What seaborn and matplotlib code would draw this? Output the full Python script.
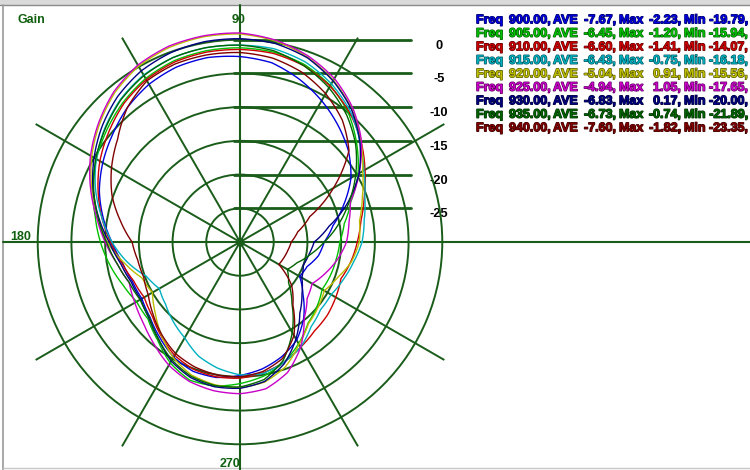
import numpy as np
import pandas as pd
import matplotlib
matplotlib.use('Agg')
import matplotlib.pyplot as plt
import matplotlib.colors as mcolors
import matplotlib.patheffects as pe
import seaborn as sns

# antenna pattern, gain in dB read every 10 degrees (0 = east, counter-clockwise)
angles = list(range(0, 360, 10))

g900 = [-17.5, -16.0, -13.6, -11.0, -9.0, -7.4, -5.8, -4.3, -3.0, -2.5, -2.23, -2.4,
        -3.0, -4.0, -5.3, -6.5, -7.8, -9.4, -11.0, -12.3, -13.0, -13.2, -12.6, -11.5,
        -10.3, -9.6, -9.6, -10.2, -10.9, -11.9, -13.2, -15.3, -17.8, -19.79, -19.4, -18.2]
g905 = [-15.2, -14.3, -12.5, -9.8, -7.4, -5.0, -3.2, -2.0, -1.4, -1.2, -1.2, -1.4,
        -2.0, -3.0, -4.2, -5.4, -6.8, -8.2, -9.3, -10.4, -11.5, -12.3, -12.2, -11.0,
        -9.3, -8.2, -8.3, -9.0, -9.8, -11.0, -12.6, -14.3, -15.1, -15.94, -15.7, -15.5]
g910 = [-12.6, -11.8, -10.4, -8.6, -6.6, -4.8, -3.3, -2.2, -1.6, -1.45, -1.41, -1.6,
        -2.2, -3.2, -4.6, -6.0, -7.6, -9.2, -10.8, -12.2, -13.2, -13.6, -13.0, -11.8,
        -10.6, -9.9, -9.7, -9.8, -10.3, -11.0, -12.0, -12.8, -13.1, -13.6, -14.07, -13.3]
g915 = [-11.9, -11.3, -10.3, -8.8, -6.8, -4.6, -2.9, -1.6, -0.9, -0.8, -0.75, -0.9,
        -1.4, -2.4, -3.8, -5.4, -7.2, -9.2, -11.0, -13.0, -15.2, -16.18, -15.6, -14.6,
        -13.6, -12.0, -11.0, -10.3, -10.2, -11.0, -12.0, -13.6, -14.4, -14.4, -13.7, -12.9]
g920 = [-12.3, -12.0, -10.7, -9.0, -6.6, -4.2, -2.3, -0.8, 0.3, 0.85, 0.91, 0.7,
        0.1, -1.1, -2.8, -4.6, -6.6, -8.6, -10.3, -12.5, -14.5, -15.0, -13.6, -11.9,
        -10.2, -9.0, -8.5, -8.4, -8.9, -10.3, -12.5, -14.2, -14.9, -15.56, -14.6, -13.2]
g925 = [-14.2, -13.6, -12.6, -9.6, -6.5, -4.0, -2.0, -0.6, 0.4, 1.0, 1.05, 0.9,
        0.3, -0.9, -2.6, -4.4, -6.4, -8.4, -10.0, -11.5, -12.5, -12.0, -11.3, -10.2,
        -8.9, -8.0, -7.6, -7.5, -7.9, -9.4, -12.0, -15.2, -17.0, -17.65, -16.5, -15.3]
g930 = [-19.0, -16.6, -13.0, -9.6, -6.8, -4.3, -2.4, -0.9, -0.1, 0.15, 0.17, -0.1,
        -0.7, -1.8, -3.3, -5.0, -6.8, -8.7, -10.6, -12.0, -12.8, -13.0, -12.4, -11.2,
        -9.6, -8.6, -8.2, -8.3, -9.0, -10.8, -13.4, -16.2, -18.0, -19.4, -20.0, -19.6]
g935 = [-17.5, -15.2, -12.8, -10.2, -7.6, -5.4, -3.6, -2.2, -1.2, -0.8, -0.74, -0.9,
        -1.5, -2.5, -3.9, -5.3, -6.9, -8.6, -10.2, -11.5, -12.5, -12.9, -12.5, -11.2,
        -9.8, -8.8, -8.4, -8.5, -9.3, -11.3, -14.5, -18.0, -20.6, -21.89, -21.0, -19.4]
g940 = [-22.4, -21.3, -19.0, -14.0, -8.9, -6.4, -4.6, -3.2, -2.3, -1.9, -1.82, -1.9,
        -2.4, -4.0, -6.3, -8.0, -9.8, -12.0, -14.0, -14.6, -14.8, -14.3, -13.2, -12.0,
        -10.9, -10.3, -10.0, -10.0, -10.5, -11.6, -14.0, -17.8, -20.0, -23.35, -23.1, -22.8]

freq_labels = ['900.00', '905.00', '910.00', '915.00', '920.00', '925.00', '930.00', '935.00', '940.00']
ave_db = [-7.67, -6.45, -6.60, -6.43, -5.04, -4.94, -6.83, -6.73, -7.60]
max_db = [-2.23, -1.20, -1.41, -0.75, 0.91, 1.05, 0.17, -0.74, -1.82]
min_db = [-19.79, -15.94, -14.07, -16.18, -15.56, -17.65, -20.00, -21.89, -23.35]
colors = ['#0000dd', '#00c000', '#cc0000', '#00b0c0', '#bcbc00', '#c800c8', '#000080', '#006400', '#800000']

ring_levels = [0, -5, -10, -15, -20, -25]

series = [g900, g905, g910, g915, g920, g925, g930, g935, g940]

GRID = '#1a5c1a'

sns.set_style('white')
plt.rcParams['font.family'] = ['Liberation Sans', 'DejaVu Sans']

# long form table, curves closed back to 0 deg
rows = []
for lab, vals in zip(freq_labels, series):
    for a, v in zip(angles + [360], vals + vals[:1]):
        rows.append((lab, np.deg2rad(a), v))
df = pd.DataFrame(rows, columns=['freq', 'theta', 'gain'])

fig = plt.figure(figsize=(7.5, 4.7), dpi=100)

# background axes in pixel units for frame, axis lines and text
bg = fig.add_axes([0, 0, 1, 1])
bg.set_xlim(0, 750)
bg.set_ylim(470, 0)
bg.axis('off')

# polar axes centred at (240, 242) px, spokes out to +5 dB
ax = fig.add_axes([0.005333, -0.01702, 0.62933, 1.00426], projection='polar')
ax.patch.set_alpha(0)

sns.lineplot(data=df, x='theta', y='gain', hue='freq', hue_order=freq_labels,
             palette=dict(zip(freq_labels, colors)), estimator=None, sort=False,
             legend=False, lw=1.0, ax=ax)

# let the polar transform bend the segments along the angle
for line in ax.lines:
    line.get_path()._interpolation_steps = 16

ax.set_rlim(-30, 5)
ax.set_rgrids(ring_levels, labels=[''] * len(ring_levels))
ax.set_thetagrids(range(0, 360, 30), labels=[''] * 12)
ax.grid(True, color=GRID, lw=1.4, ls='-')
ax.tick_params(length=0)
ax.spines['polar'].set_visible(False)
ax.set_xlabel('')
ax.set_ylabel('')


def to_bg(theta, r):
    disp = ax.transData.transform((theta, r))
    return bg.transData.inverted().transform(disp)


cx, cy = to_bg(0, -30)

# window frame
bg.fill_between([0, 750], 0, 4.5, color='#dadada', lw=0)
bg.plot([0, 750], [4.5, 4.5], color='#8a8a8a', lw=1)
bg.plot([2.5, 2.5], [4.5, 470], color='#9a9a9a', lw=1.2)
bg.plot([2.5, 750], [468, 468], color='#c8c8c8', lw=1)

# full axis lines and centre dot
bg.plot([3, 750], [cy, cy], color=GRID, lw=1.5)
bg.plot([cx, cx], [5, 470], color=GRID, lw=1.5)
bg.plot(cx, cy, 'o', ms=5, color=GRID)

# level markers on the right
for v in ring_levels:
    y = to_bg(np.pi / 2, v)[1]
    bg.plot([cx - 6, 411], [y, y], color=GRID, lw=2.0)
    bg.text(439, y + 6, f'{v}', ha='center', va='center', fontsize=9.3,
            fontweight='bold', color='black')

lab_kw = dict(fontsize=9, fontweight='bold', color='#0f5f0f')
bg.text(17, 23, 'Gain', ha='left', va='baseline', **lab_kw)
bg.text(239, 23, '90', ha='center', va='baseline', **lab_kw)
bg.text(21, 239.5, '180', ha='center', va='baseline', **lab_kw)
bg.text(230, 467, '270', ha='center', va='baseline', **lab_kw)

# per-frequency summary lines
for i, (f, a, mx, mn, c) in enumerate(zip(freq_labels, ave_db, max_db, min_db, colors)):
    y = 23.3 + 13.5 * i
    dark = tuple(0.45 * np.array(mcolors.to_rgb(c)))
    kw = dict(fontsize=9.0, fontweight='bold', va='baseline', color=c,
              path_effects=[pe.withStroke(linewidth=0.9, foreground=dark)])
    bg.text(476, y, 'Freq', ha='left', **kw)
    bg.text(509, y, f + ',', ha='left', **kw)
    bg.text(553, y, 'AVE', ha='left', **kw)
    bg.text(616, y, f'{a:.2f},', ha='right', **kw)
    bg.text(619, y, 'Max', ha='left', **kw)
    bg.text(681, y, f'{mx:.2f},', ha='right', **kw)
    bg.text(684, y, 'Min', ha='left', **kw)
    bg.text(748, y, f'{mn:.2f},', ha='right', **kw)

fig.savefig('out.png', dpi=100)
